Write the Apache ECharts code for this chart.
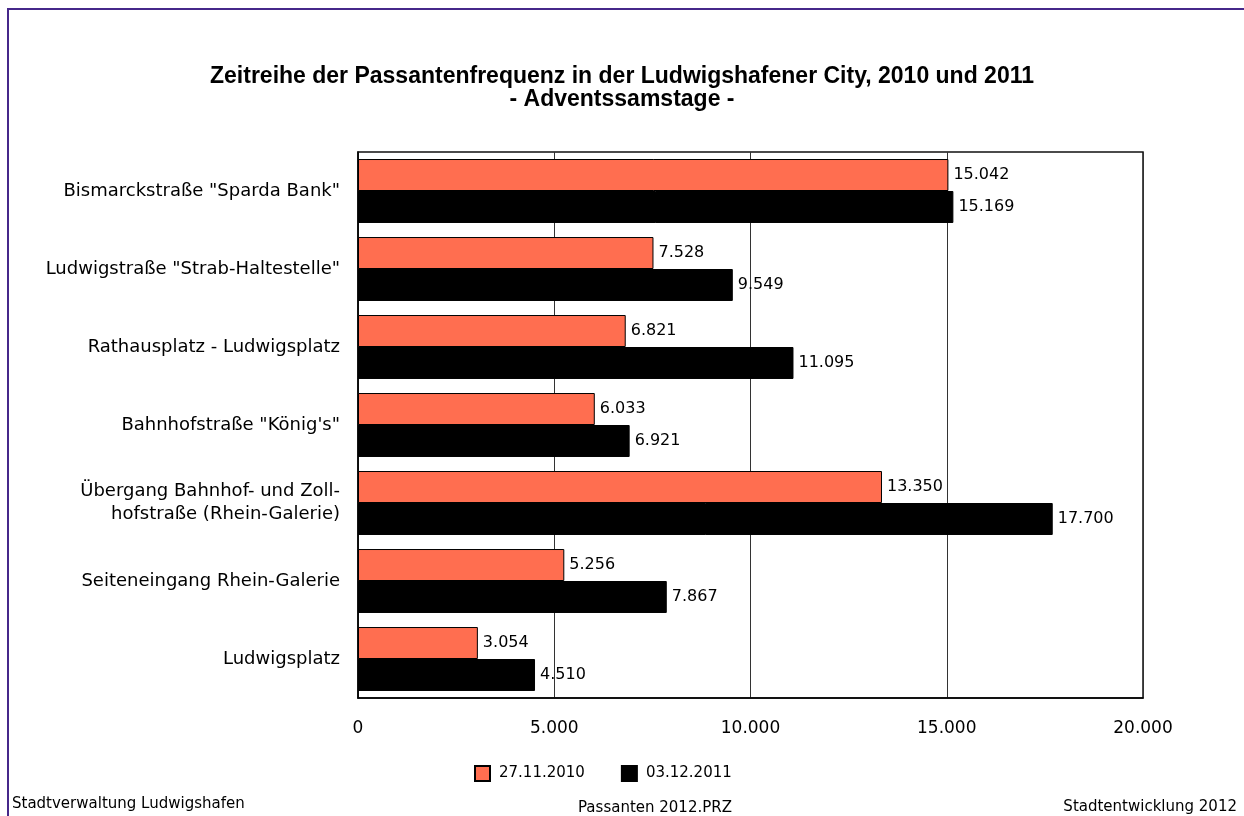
<!DOCTYPE html>
<html>
<head>
<meta charset="utf-8">
<style>
  html, body { margin: 0; padding: 0; background: #fff; }
  #chart { width: 1244px; height: 816px; }
</style>
<script src="https://cdn.jsdelivr.net/npm/echarts@6/dist/echarts.min.js"></script>
</head>
<body>
<div id="chart"></div>
<script>
// Standorte (von oben nach unten)
var categories = [
  'Bismarckstraße "Sparda Bank"',
  'Ludwigstraße "Strab-Haltestelle"',
  'Rathausplatz - Ludwigsplatz',
  'Bahnhofstraße "König\'s"',
  'Übergang Bahnhof- und Zoll-\nhofstraße (Rhein-Galerie)',
  'Seiteneingang Rhein-Galerie',
  'Ludwigsplatz'
]
var seriesNames = ['27.11.2010', '03.12.2011']
var values2010 = [15042, 7528, 6821, 6033, 13350, 5256, 3054]
var values2011 = [15169, 9549, 11095, 6921, 17700, 7867, 4510]
var xTicks = [0, 5000, 10000, 15000, 20000]

// Tausenderpunkt wie im Original
function fmt(v) {
  return String(Math.round(v)).replace(/\B(?=(\d{3})+(?!\d))/g, '.')
}

var titleFont = '"Liberation Sans", Arial, sans-serif'
var font = '"DejaVu Sans", sans-serif'
var chart = echarts.init(document.getElementById('chart'))

var footStyle = { fontFamily: font, fontSize: 15, fontWeight: 'normal', color: '#000' }

chart.setOption({
  backgroundColor: '#fff',
  textStyle: { fontFamily: font, color: '#000' },
  animation: false,
  title: [
    {
      text: 'Zeitreihe der Passantenfrequenz in der Ludwigshafener City, 2010 und 2011\n- Adventssamstage -',
      left: 'center',
      top: 60,
      textStyle: { fontFamily: titleFont, fontSize: 23, fontWeight: 'bold', color: '#000', lineHeight: 23 }
    },
    { text: 'Stadtverwaltung Ludwigshafen', left: 12, top: 797, padding: 0, textStyle: footStyle },
    { text: 'Passanten 2012.PRZ', left: 578, top: 801, padding: 0, textStyle: footStyle },
    { text: 'Stadtentwicklung 2012', right: 7, top: 800, padding: 0, textStyle: footStyle }
  ],
  // äußerer Rahmen
  graphic: [{
    type: 'rect',
    shape: { x: 8, y: 9, width: 1300, height: 900 },
    style: { fill: 'none', stroke: '#46288a', lineWidth: 2 },
    silent: true
  }],
  legend: {
    data: seriesNames,
    top: 760,
    left: 469,
    icon: 'rect',
    itemWidth: 15,
    itemHeight: 15,
    itemGap: 36,
    textStyle: { fontFamily: font, fontSize: 15, color: '#000', padding: [0, 0, 0, 4] }
  },
  grid: {
    left: 358,
    right: 101,
    top: 152,
    bottom: 118,
    show: true,
    borderColor: '#111',
    borderWidth: 1.5
  },
  xAxis: {
    type: 'value',
    min: xTicks[0],
    max: xTicks[xTicks.length - 1],
    interval: 5000,
    axisLine: { show: true, lineStyle: { color: '#000', width: 1.5 } },
    axisTick: { show: false },
    splitLine: { show: true, lineStyle: { color: '#333', width: 1 } },
    axisLabel: {
      fontFamily: font,
      fontSize: 17,
      color: '#000',
      margin: 22,
      formatter: fmt
    }
  },
  yAxis: {
    type: 'category',
    inverse: true,
    data: categories,
    axisLine: { show: true, lineStyle: { color: '#000', width: 1.5 } },
    axisTick: { show: false },
    axisLabel: {
      fontFamily: font,
      fontSize: 18,
      color: '#000',
      margin: 18,
      lineHeight: 23,
      align: 'right'
    }
  },
  series: [
    {
      name: seriesNames[0],
      type: 'bar',
      data: values2010,
      barGap: '0%',
      barCategoryGap: '18%',
      itemStyle: { color: '#ff6e50', borderColor: '#000', borderWidth: 1 },
      label: {
        show: true,
        position: 'right',
        distance: 5,
        fontFamily: font,
        fontSize: 16,
        color: '#000',
        formatter: function (p) { return fmt(p.value) }
      }
    },
    {
      name: seriesNames[1],
      type: 'bar',
      data: values2011,
      barGap: '0%',
      barCategoryGap: '18%',
      itemStyle: { color: '#000', borderColor: '#000', borderWidth: 1 },
      label: {
        show: true,
        position: 'right',
        distance: 5,
        fontFamily: font,
        fontSize: 16,
        color: '#000',
        formatter: function (p) { return fmt(p.value) }
      }
    }
  ]
})
</script>
</body>
</html>
